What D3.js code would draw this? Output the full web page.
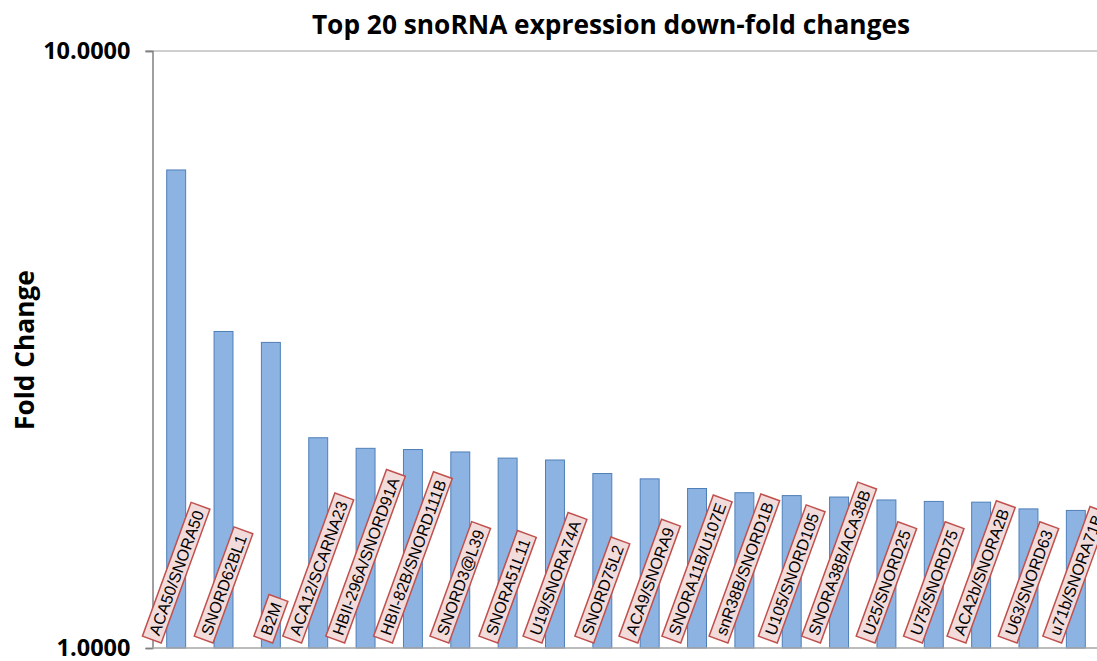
<!DOCTYPE html>
<html>
<head>
<meta charset="utf-8">
<script src="https://cdn.jsdelivr.net/npm/d3@7"></script>
<style>
  html, body { margin: 0; padding: 0; background: #fff; }
  svg { display: block; }
</style>
</head>
<body>
<svg id="chart" width="1097" height="661"></svg>
<script>
const categories = ["ACA50/SNORA50","SNORD62BL1","B2M","ACA12/SCARNA23","HBII-296A/SNORD91A","HBII-82B/SNORD111B","SNORD3@L39","SNORA51L11","U19/SNORA74A","SNORD75L2","ACA9/SNORA9","SNORA11B/U107E","snR38B/SNORD1B","U105/SNORD105","SNORA38B/ACA38B","U25/SNORD25","U75/SNORD75","ACA2b/SNORA2B","U63/SNORD63","u71b/SNORA71B"];
const foldChange = [6.32, 3.39, 3.25, 2.25, 2.16, 2.15, 2.13, 2.08, 2.065, 1.96, 1.92, 1.85, 1.82, 1.80, 1.79, 1.77, 1.76, 1.755, 1.71, 1.70];
const yTicks = [1, 10];
const titleText = "Top 20 snoRNA expression down-fold changes";
const yTitle = "Fold Change";

const svg = d3.select("#chart");
const W = 1097, H = 661;
const plot = {left: 152.5, right: 1099.5, top: 51, bottom: 648};

const x = d3.scaleBand().domain(categories).range([plot.left, plot.right]).paddingInner(0.6).paddingOuter(0.3);
const y = d3.scaleLog().domain([1, 10]).range([plot.bottom, plot.top]);

// gridline at top (max)
svg.append("line").attr("x1", plot.left - 7).attr("x2", W).attr("y1", y(10)).attr("y2", y(10))
  .attr("stroke", "#BFBFBF").attr("stroke-width", 1.5);

// bars
svg.append("g").selectAll("rect").data(categories).join("rect")
  .attr("x", d => x(d))
  .attr("y", (d, i) => y(foldChange[i]))
  .attr("width", x.bandwidth())
  .attr("height", (d, i) => y(1) - y(foldChange[i]))
  .attr("fill", "#8DB3E2")
  .attr("stroke", "#4F7FB8")
  .attr("stroke-width", 1);

// y axis
const yAxis = d3.axisLeft(y).tickValues(yTicks).tickFormat(d3.format(".4f")).tickSize(7).tickPadding(15);
const ga = svg.append("g").attr("transform", `translate(${plot.left},0)`).call(yAxis);
ga.select(".domain").attr("stroke", "#808080").attr("stroke-width", 1.5);
ga.selectAll(".tick line").attr("stroke", "#808080").attr("stroke-width", 1.5);
ga.selectAll(".tick text").attr("font-family", "'Open Sans', sans-serif").attr("font-weight", "bold")
  .attr("font-size", 23.5).attr("fill", "#000");

// baseline
svg.append("line").attr("x1", plot.left).attr("x2", W).attr("y1", y(1)).attr("y2", y(1))
  .attr("stroke", "#A6A6A6").attr("stroke-width", 1.5);

// data labels
const theta = 70 * Math.PI / 180;
const pad = 5.5, boxH = 20, baseY = 643;
const lg = svg.append("g").selectAll("g").data(categories).join("g");
lg.each(function(d) {
  const g = d3.select(this);
  const t = g.append("text").text(d)
    .attr("font-family", "'Liberation Sans', Arial, sans-serif")
    .attr("font-size", 16.2).attr("fill", "#000")
    .attr("text-anchor", "middle").attr("dominant-baseline", "central");
  const L = t.node().getComputedTextLength() + 2 * pad;
  const cx = x(d) + x.bandwidth() / 2;
  const cy = baseY - (L / 2) * Math.sin(theta) - (boxH / 2) * Math.cos(theta);
  g.insert("rect", "text").attr("x", -L / 2).attr("y", -boxH / 2).attr("width", L).attr("height", boxH)
    .attr("fill", "#F2DCDB").attr("stroke", "#C0504D").attr("stroke-width", 1.5);
  g.attr("transform", `translate(${cx},${cy}) rotate(-70)`);
});

// title
svg.append("text").attr("x", 611).attr("y", 34).attr("text-anchor", "middle")
  .attr("font-family", "'Open Sans', sans-serif").attr("font-weight", "bold").attr("font-size", 26.3)
  .attr("fill", "#000").text(titleText);

// y title
svg.append("text").attr("transform", "translate(34,350) rotate(-90)").attr("text-anchor", "middle")
  .attr("font-family", "'Open Sans', sans-serif").attr("font-weight", "bold").attr("font-size", 26.3)
  .attr("fill", "#000").text(yTitle);
</script>
</body>
</html>
